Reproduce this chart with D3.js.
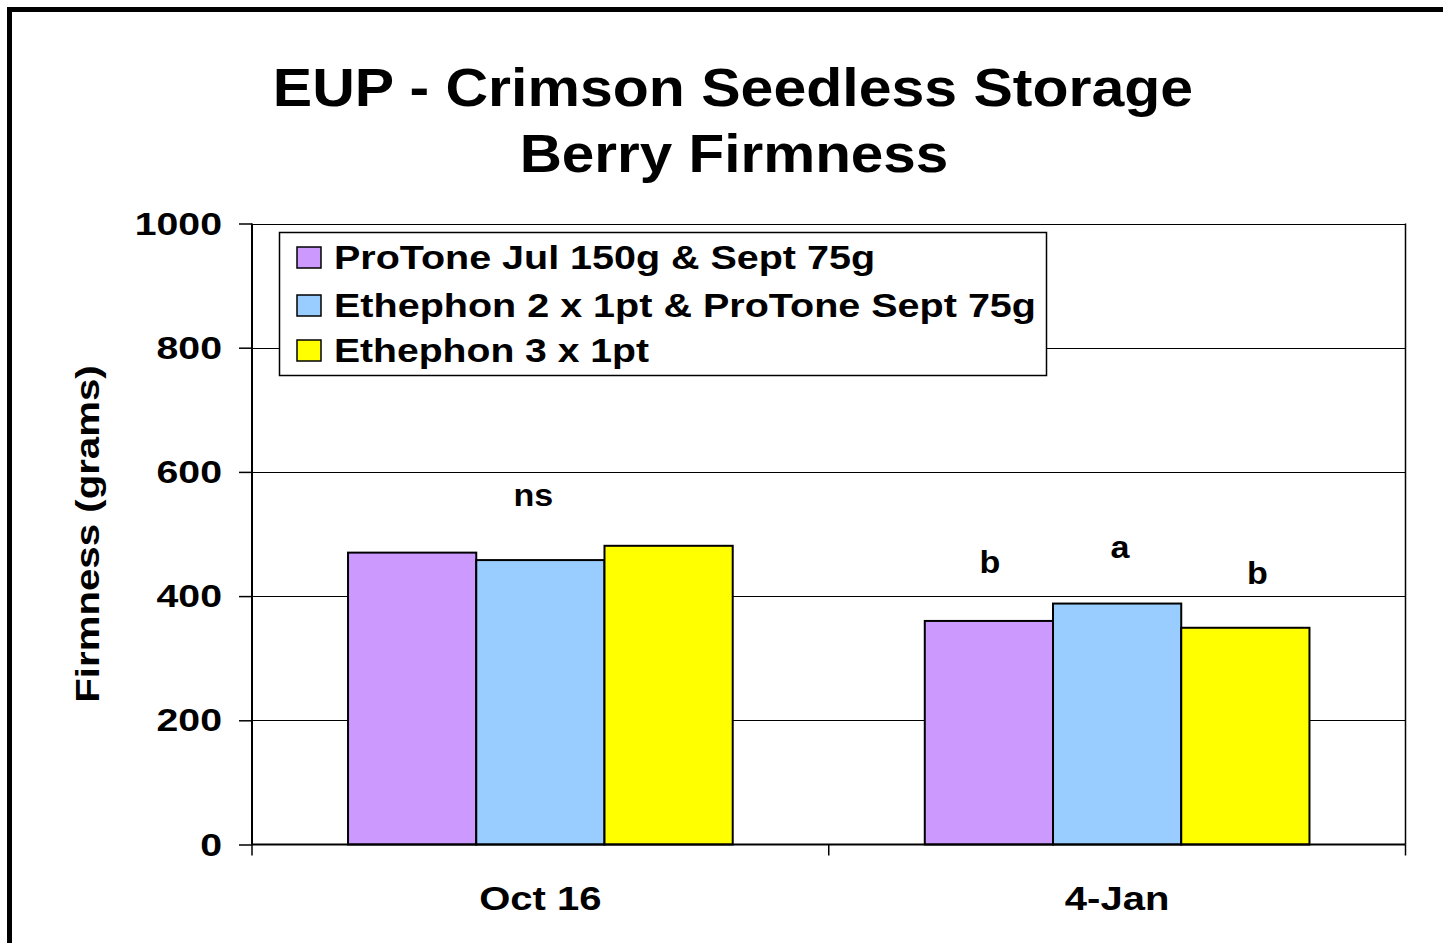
<!DOCTYPE html>
<html><head><meta charset="utf-8">
<script src="https://cdn.jsdelivr.net/npm/d3@7"></script>
<style>body{margin:0;background:#fff}svg{display:block}text{font-family:"Liberation Sans",Arial,sans-serif;font-weight:bold;fill:#000}</style>
</head><body>
<script>
const categories = ["Oct 16", "4-Jan"];
const seriesNames = ["ProTone Jul 150g & Sept 75g", "Ethephon 2 x 1pt & ProTone Sept 75g", "Ethephon 3 x 1pt"];
const seriesColors = ["#cc99ff", "#99ccff", "#ffff00"];
const protone = [470, 360];
const ethephon2 = [458, 388];
const ethephon3 = [481, 349];
const yTicks = [0, 200, 400, 600, 800, 1000];
const titleLines = ["EUP - Crimson Seedless Storage", "Berry Firmness"];
const yLabel = "Firmness (grams)";
const annotations = [
  {cat: "Oct 16", series: 1, text: "ns"},
  {cat: "4-Jan", series: 0, text: "b"},
  {cat: "4-Jan", series: 1, text: "a"},
  {cat: "4-Jan", series: 2, text: "b"}
];
const values = [protone, ethephon2, ethephon3];

const W = 1443, H = 943;
const svg = d3.select("body").append("svg").attr("width", W).attr("height", H);
svg.append("rect").attr("x", 9.5).attr("y", 9.5).attr("width", 1460).attr("height", 960)
  .attr("fill", "none").attr("stroke", "#000").attr("stroke-width", 5);

// helper: stretch text to a width (the reference font renders wider)
function fit(sel, factor) {
  sel.each(function () {
    const w = this.getComputedTextLength();
    d3.select(this).attr("textLength", w * factor).attr("lengthAdjust", "spacingAndGlyphs");
  });
  return sel;
}

const L = 252, R = 1405.5, T = 223.5, B = 844.5;
const y = d3.scaleLinear().domain([0, 1000]).range([B, T]);
const x0 = d3.scaleBand().domain(categories).range([L, R]).paddingInner(0).paddingOuter(0);
const groupW = x0.bandwidth() * 0.667;
const x1 = d3.scaleBand().domain(d3.range(seriesNames.length)).range([0, groupW]);

const t1 = svg.append("text").attr("x", 733).attr("y", 106).attr("text-anchor", "middle").attr("font-size", 53).text(titleLines[0]);
fit(t1, 917 / (746 * 53 / 48));
const t2 = svg.append("text").attr("x", 734).attr("y", 172).attr("text-anchor", "middle").attr("font-size", 53).text(titleLines[1]);
fit(t2, 426 / (350 * 53 / 48));

// gridlines
svg.append("g").selectAll("line").data(yTicks.filter(d => d > 0)).join("line")
  .attr("x1", L).attr("x2", R).attr("y1", d => Math.round(y(d)) + 0.5).attr("y2", d => Math.round(y(d)) + 0.5)
  .attr("stroke", "#000").attr("stroke-width", 1.2);
svg.append("line").attr("x1", R).attr("x2", R).attr("y1", T).attr("y2", B).attr("stroke", "#000").attr("stroke-width", 1.5);

// bars
const gBars = svg.append("g");
categories.forEach((c, ci) => {
  values.forEach((s, si) => {
    const bx = x0(c) + (x0.bandwidth() - groupW) / 2 + x1(si);
    gBars.append("rect").attr("x", bx).attr("y", y(s[ci])).attr("width", x1.bandwidth()).attr("height", B - y(s[ci]))
      .attr("fill", seriesColors[si]).attr("stroke", "#000").attr("stroke-width", 2);
  });
});

// axes
const yAxis = d3.axisLeft(y).tickValues(yTicks).tickSize(13).tickPadding(17).tickFormat(d3.format("d"));
const gy = svg.append("g").attr("transform", `translate(${L},0)`).call(yAxis);
gy.select(".domain").attr("stroke", "#000").attr("stroke-width", 2).attr("d", `M0,${T}V${B}`);
gy.selectAll(".tick line").attr("stroke-width", 1.5);
const ytx = gy.selectAll("text").attr("font-size", 32).attr("font-family", "Liberation Sans, Arial, sans-serif").attr("font-weight", "bold").attr("dy", "0.33em");
fit(ytx, 85 / (65 * 32 / 30));

const gx = svg.append("g").attr("transform", `translate(0,${B})`);
gx.append("line").attr("x1", L).attr("x2", R).attr("y1", 0).attr("y2", 0).attr("stroke", "#000").attr("stroke-width", 2);
const bounds = [L, ...categories.map(c => x0(c) + x0.bandwidth())];
gx.selectAll(".tk").data(bounds).join("line").attr("x1", d => d).attr("x2", d => d).attr("y1", 0).attr("y2", 11).attr("stroke", "#000").attr("stroke-width", 1.5);
const xl = gx.selectAll(".lbl").data(categories).join("text").attr("x", d => x0(d) + x0.bandwidth() / 2).attr("y", 65)
  .attr("text-anchor", "middle").attr("font-size", 33).text(d => d);
fit(xl, 120 / (96 * 33 / 32));

const yl = svg.append("text").attr("transform", "translate(99,534) rotate(-90)").attr("text-anchor", "middle").attr("font-size", 34).text(yLabel);
fit(yl, 333 / (265 * 34 / 32));

// annotations
const annOffset = {"ns": [-7, null], "b0": [1, 48], "a": [3, 46], "b2": [12, 44]};
annotations.forEach((a, i) => {
  const ci = categories.indexOf(a.cat);
  const bx = x0(a.cat) + (x0.bandwidth() - groupW) / 2 + x1(a.series) + x1.bandwidth() / 2;
  const v = values[a.series][ci];
  const key = a.text === "ns" ? "ns" : a.text === "a" ? "a" : (a.series === 0 ? "b0" : "b2");
  const off = annOffset[key];
  const ty = a.text === "ns" ? y(600) + 34.5 : y(v) - off[1];
  const t = svg.append("text").attr("x", bx + off[0]).attr("y", ty).attr("text-anchor", "middle").attr("font-size", 31).text(a.text);
  fit(t, 1.1);
});

// legend
const lg = svg.append("g");
lg.append("rect").attr("x", 279.5).attr("y", 232.5).attr("width", 767).attr("height", 143).attr("fill", "#fff").attr("stroke", "#000").attr("stroke-width", 1.5);
const legW = [541, 702, 315];
const legBase = [269, 317, 362];
seriesNames.forEach((n, i) => {
  lg.append("rect").attr("x", 297).attr("y", legBase[i] - 22).attr("width", 24).attr("height", 21).attr("fill", seriesColors[i]).attr("stroke", "#000").attr("stroke-width", 1.5);
  lg.append("text").attr("x", 334).attr("y", legBase[i]).attr("font-size", 34).attr("textLength", legW[i]).attr("lengthAdjust", "spacingAndGlyphs").text(n);
});
</script>
</body></html>
